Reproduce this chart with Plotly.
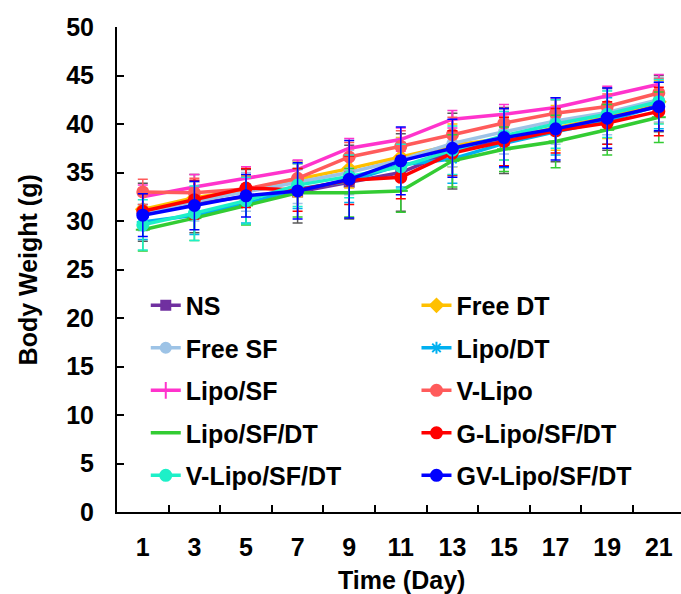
import plotly.graph_objects as go

days = ["1", "3", "5", "7", "9", "11", "13", "15", "17", "19", "21"]

ns = [30.9, 31.8, 32.5, 33.0, 34.0, 35.0, 37.2, 38.3, 39.4, 40.5, 42.1]
free_dt = [31.2, 32.4, 33.2, 34.3, 35.4, 36.6, 37.8, 38.5, 39.6, 40.7, 42.3]
free_sf = [30.8, 32.0, 33.0, 34.0, 35.0, 36.3, 38.0, 39.2, 40.3, 41.2, 42.5]
lipo_dt = [29.9, 30.6, 31.8, 33.3, 34.1, 35.8, 36.4, 38.0, 39.2, 40.3, 41.9]
lipo_sf = [32.5, 33.5, 34.4, 35.3, 37.5, 38.4, 40.5, 41.0, 41.7, 42.9, 44.1]
v_lipo = [33.0, 32.9, 33.3, 34.4, 36.6, 37.7, 38.9, 40.1, 41.1, 41.8, 43.2]
lipo_sf_dt = [29.1, 30.3, 31.6, 32.9, 32.9, 33.1, 36.2, 37.4, 38.2, 39.4, 40.7]
g_lipo = [31.0, 32.2, 33.4, 33.2, 34.2, 34.5, 37.0, 38.2, 39.3, 40.1, 41.3]
v_lipo_sf_dt = [29.6, 30.8, 32.1, 33.7, 34.6, 35.6, 37.3, 38.8, 40.0, 41.0, 42.3]
gv_lipo = [30.6, 31.6, 32.6, 33.1, 34.3, 36.2, 37.5, 38.6, 39.5, 40.6, 41.8]

err_ns = [3.0, 3.0, 2.8, 3.2, 3.8, 4.0, 3.9, 3.4, 3.3, 3.2, 2.9]
err_free_dt = [1.5, 1.6, 1.5, 1.8, 2.0, 2.0, 2.2, 2.2, 2.3, 2.2, 2.2]
err_free_sf = [1.8, 2.0, 2.0, 2.2, 2.3, 2.2, 2.4, 2.3, 2.4, 2.3, 2.3]
err_lipo_dt = [1.8, 2.0, 2.0, 2.0, 2.2, 2.3, 2.5, 2.5, 2.4, 2.4, 2.4]
err_lipo_sf = [1.2, 1.3, 1.2, 1.0, 1.0, 1.2, 0.9, 1.0, 1.0, 1.0, 1.0]
err_v_lipo = [1.3, 1.5, 1.3, 1.5, 1.5, 1.6, 1.8, 1.5, 1.4, 1.3, 1.5]
err_lipo_sf_dt = [2.2, 2.3, 2.0, 2.5, 2.5, 2.2, 2.7, 2.3, 2.7, 2.6, 2.6]
err_g_lipo = [1.8, 2.0, 2.0, 2.2, 2.5, 2.2, 2.3, 2.5, 2.3, 2.2, 2.5]
err_v_lipo_sf_dt = [2.6, 2.8, 2.4, 2.2, 2.2, 2.3, 2.5, 2.5, 2.5, 2.4, 2.3]
err_gv_lipo = [2.2, 2.5, 2.2, 2.9, 4.0, 3.5, 3.0, 3.0, 3.2, 3.1, 2.5]

x_title = "Time (Day)"
y_title = "Body Weight (g)"

FONT = "Liberation Sans, Arial, sans-serif"

# name, values, errors, color, error color, marker symbol, marker size, legend column
series = [
    ("NS", ns, err_ns, "#7030A0", "#595959", "square", 9, "legend"),
    ("Free DT", free_dt, err_free_dt, "#FFC000", "#FFC000", "diamond", 10, "legend2"),
    ("Free SF", free_sf, err_free_sf, "#9DC3E6", "#9DC3E6", "circle", 10, "legend"),
    ("Lipo/DT", lipo_dt, err_lipo_dt, "#00B0F0", "#00B0F0", "asterisk-open", 10, "legend2"),
    ("Lipo/SF", lipo_sf, err_lipo_sf, "#FF33CC", "#FF33CC", "line-ns-open", 12, "legend"),
    ("V-Lipo", v_lipo, err_v_lipo, "#FF5B5B", "#FF5B5B", "circle", 11, "legend2"),
    ("Lipo/SF/DT", lipo_sf_dt, err_lipo_sf_dt, "#33CC33", "#33CC33", "line-ew-open", 10, "legend"),
    ("G-Lipo/SF/DT", g_lipo, err_g_lipo, "#FF0000", "#FF0000", "circle", 11, "legend2"),
    ("V-Lipo/SF/DT", v_lipo_sf_dt, err_v_lipo_sf_dt, "#1DF0C8", "#1DF0C8", "circle", 11, "legend"),
    ("GV-Lipo/SF/DT", gv_lipo, err_gv_lipo, "#0000FF", "#0000FF", "circle", 11, "legend2"),
]

fig = go.Figure()
for name, vals, errs, color, ecolor, sym, msize, leg in series:
    fig.add_trace(go.Scatter(
        x=days, y=vals, name=name, mode="lines+markers",
        line=dict(color=color, width=3.5),
        marker=dict(symbol=sym, size=msize, color=color,
                    line=dict(color=color, width=2)),
        error_y=dict(type="data", array=errs, visible=True, color=ecolor,
                     thickness=1.5, width=5),
        legend=leg, legendgroup=name,
    ))

leg_common = dict(
    font=dict(family=FONT, size=25, color="black", weight="bold"),
    bgcolor="rgba(0,0,0,0)", tracegroupgap=7, yanchor="top", xanchor="left",
    itemclick=False, itemdoubleclick=False,
)

axis_font = dict(family=FONT, size=25, color="black", weight="bold")

fig.update_layout(
    width=681, height=594,
    margin=dict(l=117, r=0, t=27, b=82),
    plot_bgcolor="white", paper_bgcolor="white",
    font=dict(family=FONT, size=25, color="black"),
    legend=dict(x=0.051, y=0.473, **leg_common),
    legend2=dict(x=0.531, y=0.473, **leg_common),
    xaxis=dict(
        type="category", range=[-0.5, 10.43], automargin=False,
        tickson="boundaries", ticks="inside", ticklen=7, tickwidth=2,
        tickcolor="black", showline=True, linecolor="black", linewidth=2,
        showgrid=False, zeroline=False, ticklabelstandoff=12,
        tickfont=axis_font,
    ),
    yaxis=dict(
        range=[0, 50], dtick=5, ticks="inside", ticklen=7, tickwidth=2,
        tickcolor="black", showline=True, linecolor="black", linewidth=2,
        showgrid=False, zeroline=False, ticklabelstandoff=16, automargin=False,
        tickfont=axis_font,
    ),
    annotations=[
        dict(text=x_title, xref="paper", yref="paper", x=0.505, y=-0.14,
             xanchor="center", yanchor="middle", showarrow=False, font=axis_font),
        dict(text=y_title, xref="paper", yref="paper", x=-0.158, y=0.5,
             xanchor="center", yanchor="middle", showarrow=False, textangle=-90,
             font=axis_font),
    ],
)

fig.write_html("out.html", config={"displayModeBar": False},
               post_script="document.body.style.margin='0';"
                           "document.body.style.overflow='hidden';")
